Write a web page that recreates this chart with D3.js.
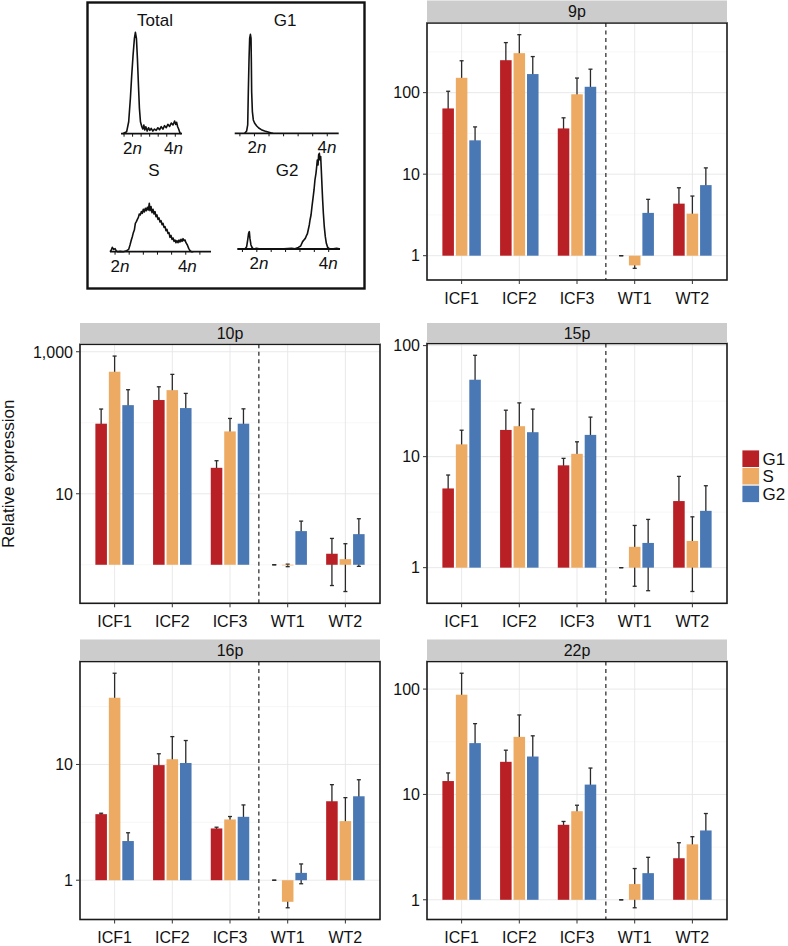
<!DOCTYPE html>
<html>
<head>
<meta charset="utf-8">
<script src="https://cdn.jsdelivr.net/npm/d3@7"></script>
<style>
  body { margin: 0; background: #fff; }
  svg { display: block; font-family: "Liberation Sans", Arial, Helvetica, sans-serif; }
</style>
</head>
<body>
<svg id="fig" width="788" height="946"></svg>
<script>
// ---- BAR DATA (relative expression, rows = samples, cols = G1, S, G2) ----
const samples = ['ICF1', 'ICF2', 'ICF3', 'WT1', 'WT2'];
const phases = ['G1', 'S', 'G2'];
const phaseColors = ['#B92025', '#EDAA62', '#4A78B4'];

const mean9p  = [[64, 152, 26], [250, 305, 169], [36.4, 95.5, 118], [1, 0.76, 3.35], [4.35, 3.28, 7.34]];
const sd9p    = [[40, 94, 12], [161, 209, 108], [12.7, 55.5, 76], [0, 0.06, 1.56], [2.46, 2.11, 4.6]];
const mean10p = [[97, 523, 177], [209, 288, 161], [23.2, 75.5, 97], [1, 0.98, 2.98], [1.43, 1.2, 2.7]];
const sd10p   = [[59, 346, 115], [112, 192, 98], [6, 39.5, 60], [0, 0.04, 1.14], [0.92, 0.78, 1.75]];
const mean15p = [[5.17, 12.9, 49.3], [17.4, 18.8, 16.6], [8.35, 10.6, 15.7], [1, 1.54, 1.67], [3.98, 1.74, 3.25]];
const sd15p   = [[1.66, 4.4, 32.5], [8.8, 11.7, 10.2], [1.3, 3.0, 7.0], [0, 0.86, 1.05], [2.66, 1.13, 2.22]];
const mean16p = [[3.72, 37.7, 2.18], [9.87, 11.1, 10.3], [2.8, 3.35, 3.53], [1, 0.651, 1.157], [4.81, 3.24, 5.31]];
const sd16p   = [[0.07, 23.7, 0.39], [2.5, 6.3, 5.8], [0.07, 0.2, 0.94], [0, 0.073, 0.225], [1.88, 1.93, 2.07]];
const mean22p = [[13.4, 88.4, 30.7], [20.4, 35.2, 22.9], [5.15, 6.93, 12.4], [1, 1.41, 1.79], [2.48, 3.36, 4.55]];
const sd22p   = [[2.6, 53, 16.3], [5.9, 21.6, 13.1], [0.39, 0.97, 5.4], [0, 0.57, 0.74], [1.0, 0.61, 2.04]];

// ---- FLOW CYTOMETRY HISTOGRAMS [DNA channel, count %] ----
const histTotal = [[2.7,0],[9.3,2],[12.6,11.8],[15.4,34.9],[17.6,57.9],[19.8,77.6],[22,94.1],[23.6,100],[25.3,94.1],
  [26.9,74.3],[28.6,48],[30.2,25],[31.9,11.8],[34.1,6.9],[35.7,4.6],[37.4,8.6],[39,3.6],[40.7,6.9],[42.9,2.6],
  [45.1,5.9],[47.3,3.3],[49.5,5.3],[52.2,2.6],[54.9,4.6],[57.7,3.3],[60.4,5.9],[63.2,3.9],[65.9,6.9],[68.7,4.6],
  [71.4,7.9],[74.2,5.9],[76.9,9.2],[79.7,7.2],[82.4,10.5],[85.2,8.6],[87.9,12.5],[89.6,9.2],[91.2,11.2],[92.9,6.9],
  [94.5,4.6],[96.7,0.7],[98.9,0]];
const histG1 = [[9.6,0],[11.5,2.4],[12.5,8.4],[13.1,42],[13.8,75.8],[14.4,96],[15.1,100],[15.7,96],[16,72.4],
  [16.3,42],[17,21.9],[17.9,13.5],[19.2,10.1],[21.2,7.4],[23.1,5.4],[25.6,3.7],[28.8,2.4],[32.1,1.3],[35.3,0.3],[36.9,0]];
const histS = [[0,0],[1.3,3.4],[2.3,9],[3.6,4.8],[5,6.2],[6.3,1.4],[7.6,0],[9.9,0.7],[13.2,0],[16.5,2.1],[18.5,4.8],
  [19.8,13.8],[21.1,24.1],[22.1,31],[23.1,39.3],[24.1,44.8],[25.1,58.6],[26.1,62.1],[27.1,66.9],[28.1,71],[29,77.9],
  [30,75.9],[31,82.8],[32,79.3],[33,87.6],[34,82.1],[35,89.7],[36,84.8],[37,91.7],[38,86.2],[38.9,100],[39.6,84.8],
  [40.6,93.1],[41.6,80.7],[42.6,87.6],[43.6,77.9],[44.6,82.8],[45.5,72.4],[46.5,75.9],[47.5,66.9],[48.5,69.7],
  [49.5,61.4],[50.5,64.1],[51.5,55.9],[52.5,58.6],[53.5,50.3],[54.5,51.7],[55.4,43.4],[56.4,46.2],[57.4,37.9],
  [58.4,39.3],[59.4,29.7],[60.4,33.8],[61.4,25.5],[62.4,28.3],[63.4,21.4],[64.4,24.1],[65.3,18.6],[66.3,22.8],
  [67.3,18.6],[68.3,24.1],[69.3,20],[70.3,25.5],[71.3,21.4],[72.3,26.9],[73.3,22.8],[74.3,24.1],[75.2,18.6],
  [76.6,13.8],[77.9,6.9],[79.2,2.1],[80.5,0],[82.5,0]];
const histG2 = [[7.5,0],[9.1,2.4],[10.1,9.4],[11,16.4],[11.7,18.1],[12.3,11.1],[13.3,4.2],[14.3,1.7],[15.6,0],
  [18.8,0.7],[22.1,0],[41.6,0],[52.9,0.7],[56.2,0.3],[59.4,1.7],[61.7,3.1],[63.6,7.7],[64.9,9.4],[66.2,11.1],
  [67.2,13.6],[68.2,15.7],[69.2,20.6],[70.1,25.1],[70.8,30.3],[71.8,35.5],[72.7,44.3],[73.7,53],[74.7,61.7],
  [75.6,72.1],[76.6,79.1],[77.3,86.1],[77.9,93],[78.6,87.8],[79.2,98.3],[79.9,100],[80.5,93],[81.2,96.5],
  [81.8,82.6],[82.5,65.2],[83.1,51.2],[83.8,37.3],[84.7,23.3],[85.7,12.9],[86.7,5.9],[88,1.7],[89.6,0.3],
  [91.9,0],[96.8,0.7],[100,0]];
// channel positions of the 2n / 4n labels for each histogram
const ploidyTotal = [19, 86];
const ploidyG1 = [21.5, 88.8];
const ploidyS = [9.9, 76.6];
const ploidyG2 = [21.1, 88.6];
const histTicks = [5, 19, 33, 47, 61, 75, 89];

const svg = d3.select('#fig');
svg.append('rect').attr('width', 788).attr('height', 946).attr('fill', '#fff');

// ---- FACS INSET ----
svg.append('rect')
  .attr('x', 87.5).attr('y', 2.5).attr('width', 277).attr('height', 286)
  .attr('fill', 'none').attr('stroke', '#111').attr('stroke-width', 2.4);

const hists = [
  { title: 'Total', data: histTotal, ploidy: ploidyTotal, x0: 121, x1: 182, base: 133.7, top: 32.3, titleX: 155, titleY: 26 },
  { title: 'G1', data: histG1, ploidy: ploidyG1, x0: 234.7, x1: 338.7, base: 133.3, top: 34.3, titleX: 285, titleY: 26 },
  { title: 'S', data: histS, ploidy: ploidyS, x0: 110, x1: 211, base: 251.7, top: 203.3, titleX: 154, titleY: 176 },
  { title: 'G2', data: histG2, ploidy: ploidyG2, x0: 237.3, x1: 340, base: 249, top: 153.3, titleX: 287, titleY: 176 }
];

hists.forEach(h => {
  const hx = d3.scaleLinear().domain([0, 100]).range([h.x0, h.x1]);
  const hy = d3.scaleLinear().domain([0, 100]).range([h.base, h.top]);
  const g = svg.append('g');

  g.append('text')
    .attr('x', h.titleX).attr('y', h.titleY)
    .attr('text-anchor', 'middle').attr('font-size', 17).attr('fill', '#111')
    .text(h.title);

  // axis line + ticks
  g.append('line')
    .attr('x1', h.x0).attr('x2', h.x1).attr('y1', h.base).attr('y2', h.base)
    .attr('stroke', '#111').attr('stroke-width', 1.8);
  g.selectAll('.ht').data(histTicks).join('line')
    .attr('x1', d => hx(d)).attr('x2', d => hx(d))
    .attr('y1', h.base).attr('y2', h.base + 3)
    .attr('stroke', '#111').attr('stroke-width', 1);

  g.append('path')
    .datum(h.data)
    .attr('d', d3.line().x(d => hx(d[0])).y(d => hy(d[1])))
    .attr('fill', 'none').attr('stroke', '#111').attr('stroke-width', 1.6)
    .attr('stroke-linejoin', 'round');

  const labs = g.selectAll('.pl').data(h.ploidy).join('text')
    .attr('x', d => hx(d)).attr('y', h.base + 20)
    .attr('text-anchor', 'middle').attr('font-size', 17).attr('fill', '#111');
  labs.append('tspan').text((d, i) => i === 0 ? '2' : '4');
  labs.append('tspan').attr('font-style', 'italic').text('n');
});

// ---- BAR PANELS ----
const panels = [
  { name: '9p',  mean: mean9p,  sd: sd9p,  left: 427, stripTop: 0.5, top: 23,    bottom: 280 },
  { name: '10p', mean: mean10p, sd: sd10p, left: 80,  stripTop: 323, top: 344.3, bottom: 603.3, yTitle: true },
  { name: '15p', mean: mean15p, sd: sd15p, left: 427, stripTop: 323, top: 343.5, bottom: 603.3 },
  { name: '16p', mean: mean16p, sd: sd16p, left: 80,  stripTop: 639.5, top: 661.5, bottom: 919.5 },
  { name: '22p', mean: mean22p, sd: sd22p, left: 427, stripTop: 639.5, top: 661.5, bottom: 919.5 }
];
const panelW = 300;
const fmt = d3.format(',');

// ggplot-like log breaks
function logBreaks(lo, hi) {
  const a = Math.floor(lo), b = Math.ceil(hi);
  const by = Math.floor((b - a) / 5) + 1;
  const seq = d3.range(a, b + 0.001, by);
  const minor = [];
  const ext = [seq[0] - by].concat(seq, [seq[seq.length - 1] + by]);
  for (let i = 0; i < ext.length - 1; i++) minor.push((ext[i] + ext[i + 1]) / 2);
  return {
    major: seq.filter(v => v >= lo && v <= hi).map(v => Math.pow(10, v)),
    minor: minor.filter(v => v >= lo && v <= hi).map(v => Math.pow(10, v))
  };
}

panels.forEach(p => {
  const rows = [];
  samples.forEach((s, i) => phases.forEach((ph, j) => {
    const m = p.mean[i][j], e = p.sd[i][j];
    rows.push({ sample: s, phase: j, mean: m, lo: m - e, hi: m + e });
  }));

  // data extent in log space incl. bar base (1), +5% expansion
  const vals = rows.flatMap(r => [r.lo, r.hi, r.mean]).concat([1]).filter(v => v > 0).map(Math.log10);
  const lo = d3.min(vals), hi = d3.max(vals);
  const pad = (hi - lo) * 0.05;
  const y = d3.scaleLog().domain([Math.pow(10, lo - pad), Math.pow(10, hi + pad)]).range([p.bottom, p.top]);
  const x = d3.scalePoint().domain(samples).range([p.left, p.left + panelW]).padding(0.6);
  const step = x.step();
  const br = logBreaks(lo - pad, hi + pad);

  const g = svg.append('g');
  g.append('rect').attr('x', p.left).attr('y', p.top).attr('width', panelW).attr('height', p.bottom - p.top).attr('fill', '#fff');

  // grid
  g.selectAll('.gmin').data(br.minor).join('line')
    .attr('x1', p.left).attr('x2', p.left + panelW).attr('y1', d => y(d)).attr('y2', d => y(d))
    .attr('stroke', '#f2f2f2').attr('stroke-width', 0.6);
  g.selectAll('.gmaj').data(br.major).join('line')
    .attr('x1', p.left).attr('x2', p.left + panelW).attr('y1', d => y(d)).attr('y2', d => y(d))
    .attr('stroke', '#e6e6e6').attr('stroke-width', 0.9);
  g.selectAll('.gv').data(samples).join('line')
    .attr('x1', d => x(d)).attr('x2', d => x(d)).attr('y1', p.top).attr('y2', p.bottom)
    .attr('stroke', '#e6e6e6').attr('stroke-width', 0.9);

  // dashed separator between ICF and WT
  const sepX = (x('ICF3') + x('WT1')) / 2;
  g.append('line')
    .attr('x1', sepX).attr('x2', sepX).attr('y1', p.top).attr('y2', p.bottom)
    .attr('stroke', '#333').attr('stroke-width', 1.3).attr('stroke-dasharray', '4,3.5');

  const bw = step * 0.2, dodge = step * 0.7 / 3, cap = step * 0.035;
  const cx = r => x(r.sample) + (r.phase - 1) * dodge;

  // error bars (behind bars)
  const eb = g.selectAll('.eb').data(rows).join('g').attr('stroke', '#2a2a2a').attr('stroke-width', 1.3);
  eb.append('line')
    .attr('x1', cx).attr('x2', cx)
    .attr('y1', r => y(Math.max(r.lo, y.domain()[0]))).attr('y2', r => y(r.hi));
  eb.append('line')
    .attr('x1', r => cx(r) - cap).attr('x2', r => cx(r) + cap)
    .attr('y1', r => y(r.hi)).attr('y2', r => y(r.hi));
  eb.filter(r => r.lo > 0).append('line')
    .attr('x1', r => cx(r) - cap).attr('x2', r => cx(r) + cap)
    .attr('y1', r => y(r.lo)).attr('y2', r => y(r.lo));

  // bars from 1
  g.selectAll('.bar').data(rows).join('rect')
    .attr('x', r => cx(r) - bw / 2).attr('width', bw)
    .attr('y', r => Math.min(y(r.mean), y(1)))
    .attr('height', r => Math.abs(y(r.mean) - y(1)))
    .attr('fill', r => phaseColors[r.phase]);

  // border
  g.append('rect').attr('x', p.left).attr('y', p.top).attr('width', panelW).attr('height', p.bottom - p.top)
    .attr('fill', 'none').attr('stroke', '#1a1a1a').attr('stroke-width', 1.6);

  // strip
  g.append('rect').attr('x', p.left).attr('y', p.stripTop).attr('width', panelW).attr('height', p.top - p.stripTop - 0.8)
    .attr('fill', '#cccccc');
  g.append('text').attr('x', p.left + panelW / 2).attr('y', (p.stripTop + p.top) / 2 + 5.5)
    .attr('text-anchor', 'middle').attr('font-size', 16).attr('fill', '#111').text(p.name);

  // y axis
  g.selectAll('.yt').data(br.major).join('line')
    .attr('x1', p.left - 4).attr('x2', p.left).attr('y1', d => y(d)).attr('y2', d => y(d))
    .attr('stroke', '#333').attr('stroke-width', 1);
  g.selectAll('.yl').data(br.major).join('text')
    .attr('x', p.left - 7).attr('y', d => y(d) + 5.8)
    .attr('text-anchor', 'end').attr('font-size', 16).attr('fill', '#111')
    .text(d => fmt(Math.round(d)));

  // x axis
  g.selectAll('.xt').data(samples).join('line')
    .attr('x1', d => x(d)).attr('x2', d => x(d)).attr('y1', p.bottom).attr('y2', p.bottom + 4)
    .attr('stroke', '#333').attr('stroke-width', 1);
  g.selectAll('.xl').data(samples).join('text')
    .attr('x', d => x(d)).attr('y', p.bottom + 23.5)
    .attr('text-anchor', 'middle').attr('font-size', 16).attr('fill', '#111')
    .text(d => d);

  if (p.yTitle) {
    g.append('text')
      .attr('transform', `translate(14,${(p.top + p.bottom) / 2}) rotate(-90)`)
      .attr('text-anchor', 'middle').attr('font-size', 17).attr('fill', '#111')
      .text('Relative expression');
  }
});

// ---- LEGEND ----
const leg = svg.append('g').attr('transform', 'translate(742,450)');
leg.selectAll('rect').data(phases).join('rect')
  .attr('x', 0).attr('y', (d, i) => i * 17.6).attr('width', 17.4).attr('height', 17.4)
  .attr('fill', (d, i) => phaseColors[i]).attr('stroke', '#fff').attr('stroke-width', 0.8);
leg.selectAll('text').data(phases).join('text')
  .attr('x', 20.5).attr('y', (d, i) => i * 17.6 + 14.5)
  .attr('font-size', 17).attr('fill', '#111').text(d => d);
</script>
</body>
</html>
